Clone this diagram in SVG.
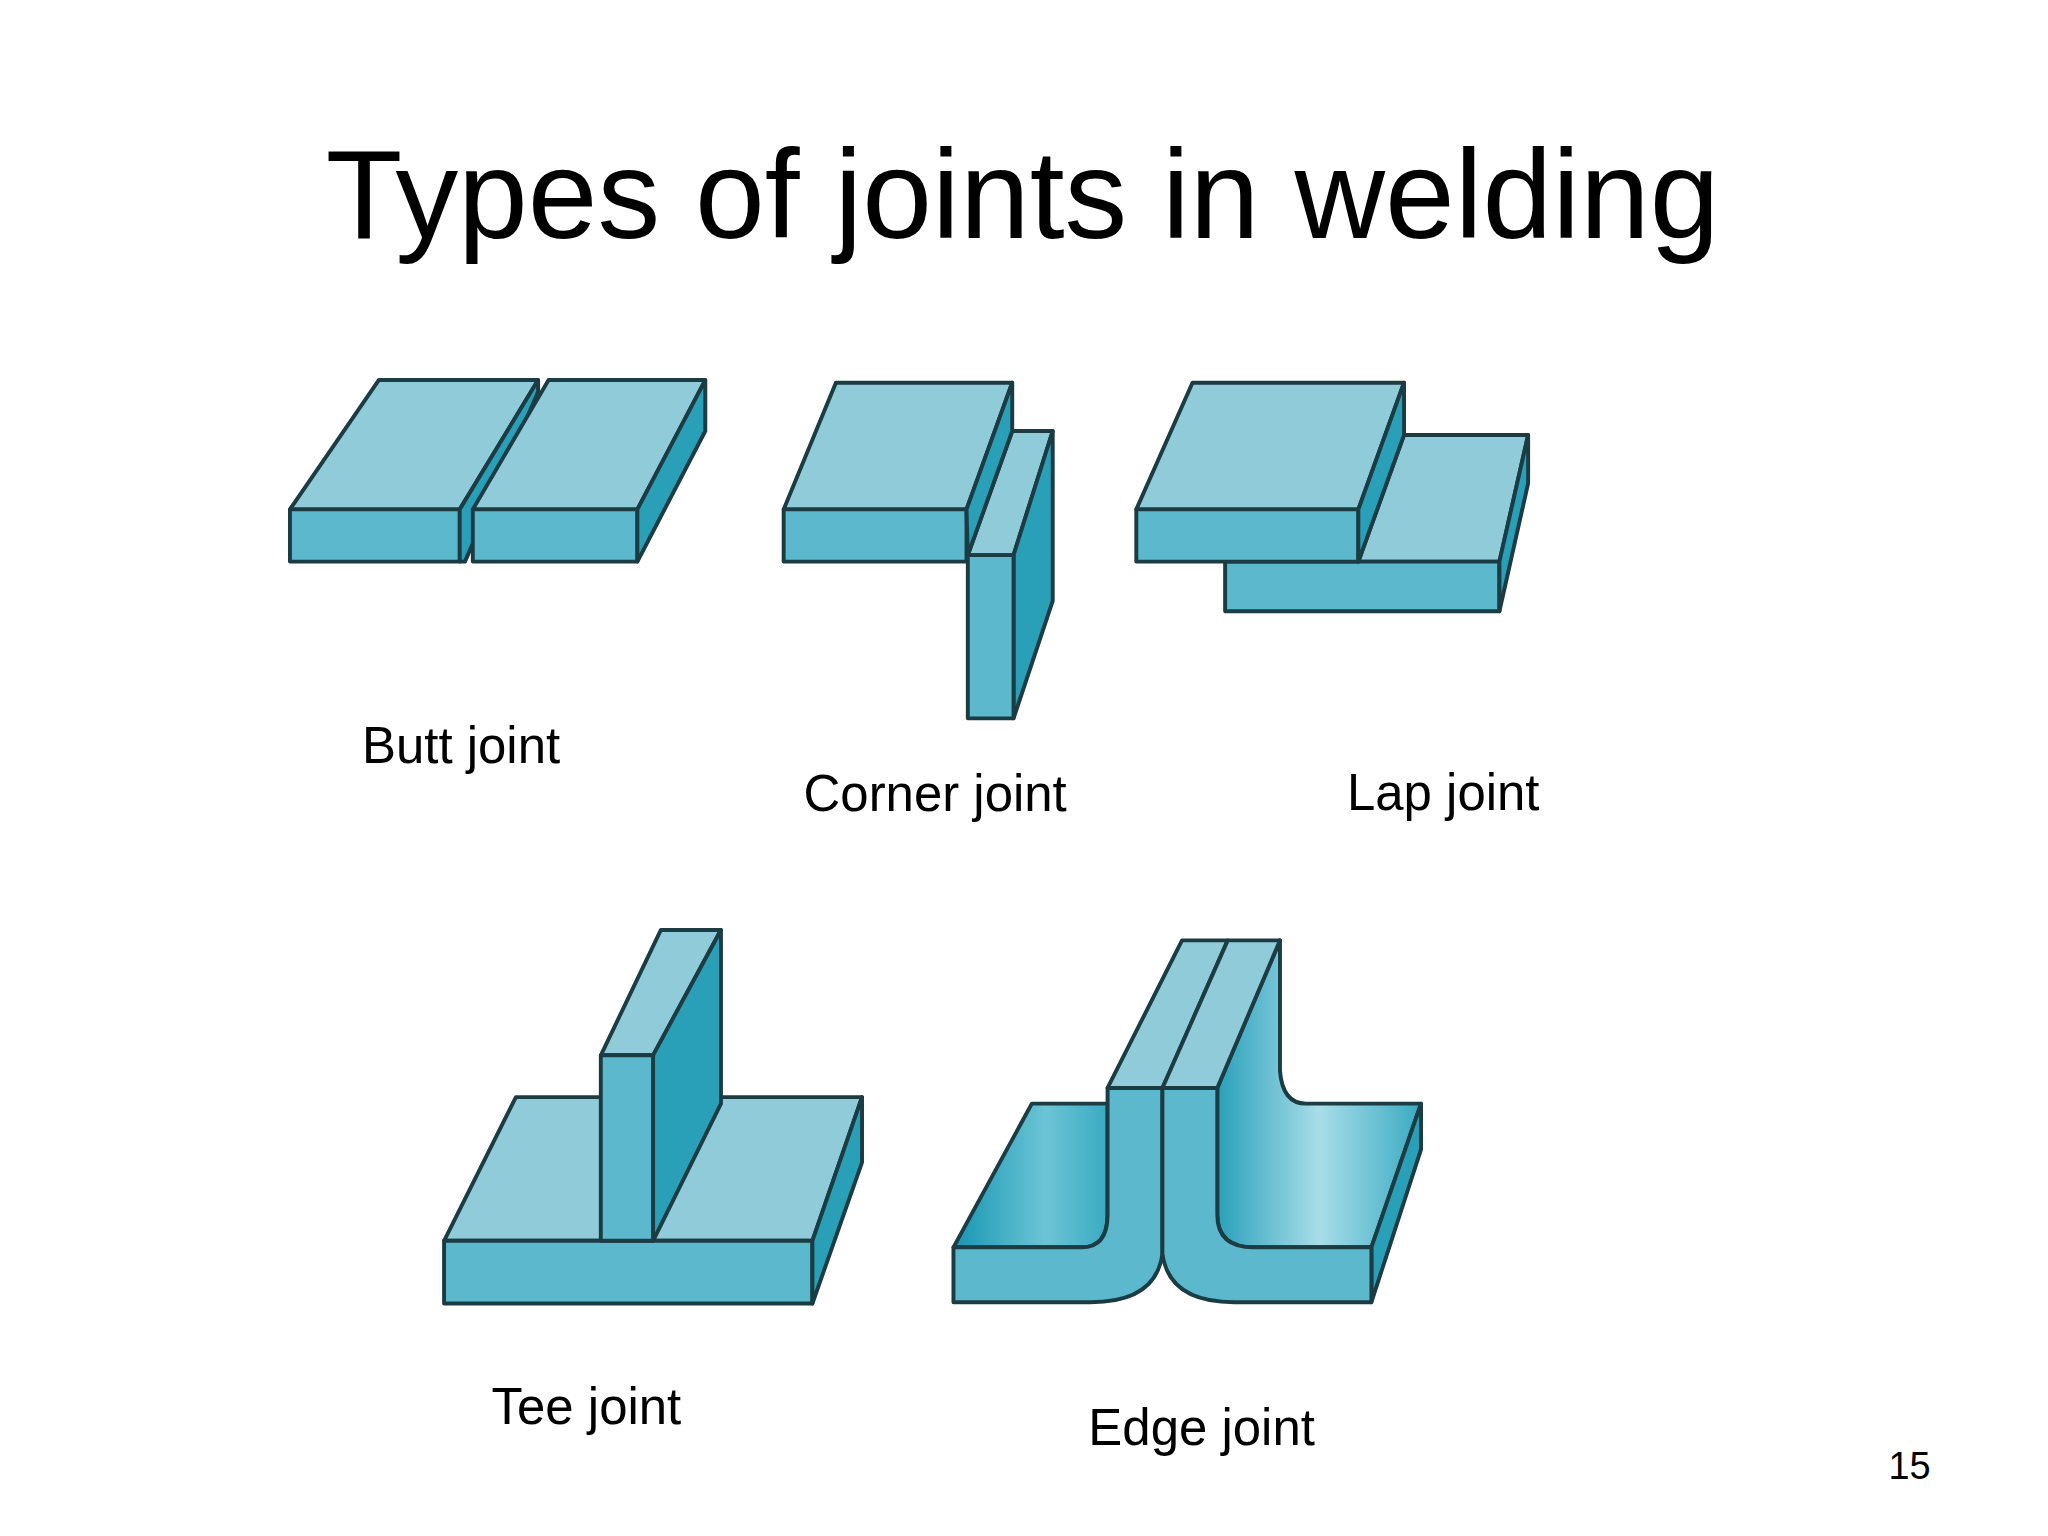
<svg xmlns="http://www.w3.org/2000/svg" width="2048" height="1536" viewBox="0 0 2048 1536">
<style>
.t{fill:#8fcbd9;stroke:#1c3c44;stroke-width:3;stroke-linejoin:round}
.f{fill:#5cb9cd;stroke:#1c3c44;stroke-width:3;stroke-linejoin:round}
.s{fill:#2a9fb8;stroke:#1c3c44;stroke-width:3;stroke-linejoin:round}
.lb{font-family:"Liberation Sans",Arial,sans-serif;fill:#000}
</style>
<defs>
<linearGradient id="gl" x1="0" y1="0" x2="1" y2="0"><stop offset="0" stop-color="#1796b2"/><stop offset="0.6" stop-color="#6cc4d6"/><stop offset="1" stop-color="#3aaac2"/></linearGradient>
<linearGradient id="gr" x1="0" y1="0" x2="1" y2="0"><stop offset="0" stop-color="#2aa0ba"/><stop offset="0.5" stop-color="#a8dde8"/><stop offset="1" stop-color="#3aaac2"/></linearGradient>
</defs>
<rect width="2048" height="1536" fill="#fff"/>
<g transform="scale(1.3061)">
<text class="lb" x="783" y="182" font-size="96" text-anchor="middle">Types of joints in welding</text>
<g id="butt">
<polygon class="t" points="222,390 290,291 412,291 352,390"/>
<polygon class="f" points="222,390 352,390 352,430 222,430"/>
<polygon class="s" points="352,390 412,291 412,300 356,430 352,430"/>
<polygon class="t" points="362,390 420,291 540,291 488,390"/>
<polygon class="f" points="362,390 488,390 488,430 362,430"/>
<polygon class="s" points="488,390 540,291 540,330 488,430"/>
<text class="lb" x="353" y="584" font-size="39" text-anchor="middle">Butt joint</text>
</g>
<g id="corner">
<polygon class="t" points="600,390 640,293 775,293 740,390"/>
<polygon class="f" points="600,390 740,390 740,430 600,430"/>
<polygon class="t" points="741,425 775,330 806,330 776,425"/>
<polygon class="s" points="776,425 806,330 806,460 776,550"/>
<polygon class="f" points="741,425 776,425 776,550 741,550"/>
<polygon class="s" points="740,390 775,293 775,330 741,425"/>
<text class="lb" x="716" y="621" font-size="39" text-anchor="middle">Corner joint</text>
</g>
<g id="lap">
<polygon class="t" points="1040,430 1075,333 1170,333 1148,430"/>
<polygon class="f" points="938,430 1148,430 1148,468 938,468"/>
<polygon class="s" points="1148,430 1170,333 1170,370 1148,468"/>
<polygon class="t" points="870,390 913,293 1075,293 1040,390"/>
<polygon class="f" points="870,390 1040,390 1040,430 870,430"/>
<polygon class="s" points="1040,390 1075,293 1075,333 1040,430"/>
<text class="lb" x="1105" y="620" font-size="39" text-anchor="middle">Lap joint</text>
</g>
<g id="tee">
<polygon class="t" points="340,950 395,840 660,840 622,950"/>
<polygon class="f" points="340,950 622,950 622,998 340,998"/>
<polygon class="s" points="622,950 660,840 660,890 622,998"/>
<polygon class="t" points="460,808 506,712 552,712 500,808"/>
<polygon class="s" points="500,808 552,712 552,845 500,950"/>
<polygon class="f" points="460,808 500,808 500,950 460,950"/>
<text class="lb" x="449" y="1090" font-size="39" text-anchor="middle">Tee joint</text>
</g>
<g id="edge">
<path class="t" style="fill:url(#gl)" d="M730,955 L790,845 L848,845 L848,930 Q848,955 828,955 Z"/>
<path class="t" style="fill:url(#gr)" d="M932,833 L980,720 L980,820 Q982,845 1000,845 L1088,845 L1050,955 L960,955 Q932,955 932,930 Z"/>
<polygon class="s" points="1050,955 1088,845 1088,880 1050,997"/>
<polygon class="t" points="848,833 905,720 940,720 890,833"/>
<polygon class="t" points="890,833 940,720 980,720 932,833"/>
<path class="f" d="M730,955 L828,955 Q848,955 848,930 L848,833 L890,833 L890,960 Q885,997 835,997 L730,997 Z"/>
<path class="f" d="M890,833 L932,833 L932,930 Q932,955 960,955 L1050,955 L1050,997 L945,997 Q895,997 890,960 Z"/>
<text class="lb" x="920" y="1106" font-size="39" text-anchor="middle">Edge joint</text>
</g>
<text class="lb" x="1462" y="1132" font-size="29" text-anchor="middle">15</text>
</g>
</svg>
